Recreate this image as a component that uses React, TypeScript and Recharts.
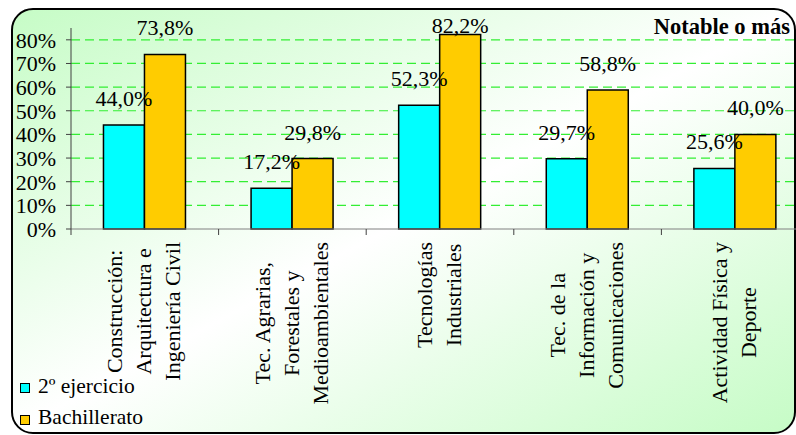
import React from 'react';
import { BarChart, Bar, XAxis, YAxis, CartesianGrid, LabelList, Legend } from 'recharts';

const categories = [
  'Construcción:\nArquitectura e\nIngeniería Civil',
  'Tec. Agrarias,\nForestales y\nMedioambientales',
  'Tecnologías\nIndustriales',
  'Tec. de la\nInformación y\nComunicaciones',
  'Actividad Física y\nDeporte',
];
const ejercicio2 = [44.0, 17.2, 52.3, 29.7, 25.6];
const bachillerato = [73.8, 29.8, 82.2, 58.8, 40.0];
const yTicks = [0, 10, 20, 30, 40, 50, 60, 70, 80];
const seriesNames = ['2º ejercicio', 'Bachillerato'];
const seriesColors = ['#00ffff', '#ffcc00'];

const FONT = '"Liberation Serif", "Times New Roman", serif';
const CHART_W = 812;
const CHART_H = 435;
const PLOT_LEFT = 71;
const MARGIN_RIGHT = 3;
const BAND = (CHART_W - PLOT_LEFT - MARGIN_RIGHT) / categories.length;

const data = categories.map((name, i) => ({
  name,
  ejercicio: ejercicio2[i],
  bach: bachillerato[i],
}));

let ctx: CanvasRenderingContext2D | null = null;
const measure = (s: string) => {
  if (!ctx) ctx = document.createElement('canvas').getContext('2d');
  if (!ctx) return s.length * 10;
  ctx.font = `22px ${FONT}`;
  return ctx.measureText(s).width;
};

const fmt = (v: number) => v.toFixed(1).replace('.', ',') + '%';

const CategoryTick = (props: any) => {
  const { x, y, payload, index } = props;
  const lines: string[] = String(payload.value).split('\n');
  const maxLen = Math.max(...lines.map(measure));
  const cy = y + 13 + maxLen / 2;
  const n = lines.length;
  return (
    <g>
      <line x1={x - BAND / 2} x2={x - BAND / 2} y1={y} y2={y + 6} stroke="#404040" />
      {index === categories.length - 1 && (
        <line x1={x + BAND / 2} x2={x + BAND / 2} y1={y} y2={y + 6} stroke="#404040" />
      )}
      {lines.map((l, i) => (
        <text
          key={i}
          transform={`translate(${x - 1 + (i - (n - 1) / 2) * 29}, ${cy}) rotate(-90)`}
          textAnchor="middle"
          dominantBaseline="central"
          fontFamily={FONT}
          fontSize={22}
          fill="#000"
        >
          {l}
        </text>
      ))}
    </g>
  );
};

const ValueLabel = (props: any) => {
  const { x, y, width, value } = props;
  return (
    <text
      x={x + width / 2}
      y={Math.max(y - 19, 33)}
      textAnchor="middle"
      fontFamily={FONT}
      fontSize={22}
      fill="#000"
    >
      {fmt(value)}
    </text>
  );
};

const LegendContent = () => (
  <div style={{ position: 'relative', width: 200, height: 64, fontFamily: FONT }}>
    {seriesNames.map((s, i) => (
      <div key={s}>
        <div
          style={{
            position: 'absolute',
            left: 20,
            top: 13 + i * 31.5,
            width: 10,
            height: 10,
            boxSizing: 'border-box',
            border: '1px solid #000',
            background: seriesColors[i],
          }}
        />
        <div
          style={{
            position: 'absolute',
            left: 38,
            top: 4.6 + i * 31.5,
            fontSize: 21.5,
            lineHeight: '22px',
            whiteSpace: 'nowrap',
            color: '#000',
          }}
        >
          {s}
        </div>
      </div>
    ))}
  </div>
);

export default function App() {
  return (
    <div
      style={{
        position: 'absolute',
        left: 0,
        top: 0,
        width: 796,
        height: 435,
        overflow: 'hidden',
        background: '#fff',
      }}
    >
      <div
        style={{
          position: 'absolute',
          left: 11,
          top: 8,
          width: 785,
          height: 426,
          boxSizing: 'border-box',
          border: '2px solid #000',
          borderRadius: 22,
          background: 'linear-gradient(to bottom right, #c6fcc6 0%, #ffffff 50%, #c6fcc6 100%)',
        }}
      />
      <div
        style={{
          position: 'absolute',
          right: 6,
          top: 16,
          fontFamily: FONT,
          fontSize: 22.5,
          lineHeight: '22.5px',
          fontWeight: 'bold',
          color: '#000',
          whiteSpace: 'nowrap',
        }}
      >
        Notable o más
      </div>
      <div style={{ position: 'absolute', left: 0, top: 0 }}>
        <BarChart
          width={CHART_W}
          height={CHART_H}
          data={data}
          margin={{ top: 28, right: MARGIN_RIGHT, bottom: 0, left: 0 }}
          barCategoryGap="22%"
          barGap={0}
        >
          <CartesianGrid
            vertical={false}
            stroke="#33ee33"
            strokeDasharray="9 5"
            strokeWidth={1.2}
            horizontalValues={yTicks.slice(1)}
          />
          <XAxis
            dataKey="name"
            height={206}
            interval={0}
            tickLine={false}
            tickSize={0}
            tickMargin={0}
            axisLine={{ stroke: '#808080' }}
            tick={<CategoryTick />}
          />
          <YAxis
            width={PLOT_LEFT}
            domain={[0, 85]}
            ticks={yTicks}
            interval={0}
            tickFormatter={(v: number) => `${v}%`}
            tickSize={5}
            tickMargin={10}
            axisLine={{ stroke: '#404040' }}
            tickLine={{ stroke: '#404040' }}
            tick={{ fontFamily: FONT, fontSize: 22, fill: '#000' }}
          />
          <Legend
            layout="vertical"
            align="center"
            verticalAlign="middle"
            wrapperStyle={{ left: 0, top: 370, width: 200, height: 64 }}
            content={<LegendContent />}
          />
          <Bar dataKey="ejercicio" name={seriesNames[0]} fill={seriesColors[0]} stroke="#000" strokeWidth={1.5} isAnimationActive={false}>
            <LabelList dataKey="ejercicio" content={<ValueLabel />} />
          </Bar>
          <Bar dataKey="bach" name={seriesNames[1]} fill={seriesColors[1]} stroke="#000" strokeWidth={1.5} isAnimationActive={false}>
            <LabelList dataKey="bach" content={<ValueLabel />} />
          </Bar>
        </BarChart>
      </div>
    </div>
  );
}
